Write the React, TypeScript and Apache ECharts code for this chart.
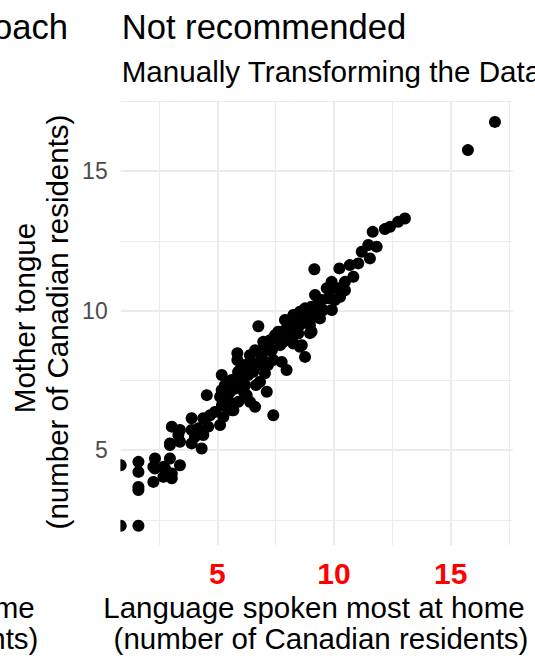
import React, { useEffect, useRef } from "react";
import * as echarts from "echarts";

// Log-scale values (manually transformed): language spoken most at home (x) vs mother tongue (y)
const X_VALUES = [
  16.9, 15.74, 13.04, 12.75, 12.4, 12.18, 11.66, 11.83, 11.47, 11.19,
  11.54, 11.04, 10.68, 10.23, 9.16, 10.83, 10.47, 9.9, 10.18, 9.69,
  10.26, 9.76, 9.47, 9.26, 9.04, 9.54, 8.76, 8.54, 8.26, 9.11,
  9.4, 7.9, 8.68, 6.76, 7.61, 8.11, 9.04, 8.47, 6.97, 7.83,
  8.62, 8.26, 7.69, 8.97, 8.54, 5.86, 5.86, 6.83, 7.4, 8.76,
  6.54, 7.76, 7.97, 6.54, 7.04, 5.19, 5.62, 6.05, 6.83, 7.12,
  4.55, 5.19, 5.76, 6.26, 5.12, 5.47, 5.9, 6.4, 5.4, 6.62,
  4.9, 5.69, 7.4, 5.26, 4.4, 3.9, 5.12, 4.61, 4.19, 3.9,
  3.05, 3.4, 3.33, 4.4, 4.04, 2.97, 3.4, 3.9, 4.33, 2.33,
  2.97, 3.4, 2.69, 2.33, 2.69, 0.86, 1.62, 1.62, 2.26, 2.76,
  3.05, 2.26, 3.05, 1.62, 1.62, 0.86, 1.62, 2.97,
  8.11, 8.33, 8.76, 8.97, 7.9, 7.47, 7.26, 7.04, 7.69, 7.26,
  6.62, 6.4, 6.19, 5.97, 6.32, 6.74, 7.17, 6.19, 5.33, 5.54,
  9.83, 10.04, 10.47, 9.19, 9.91, 8.54,
  5.46, 5.89, 6.4, 6.92, 7.34, 7.77, 8.2, 6.14, 6.66, 5.63,
  5.2, 4.69, 8.54, 9.31,
];
const Y_VALUES = [
  16.76, 15.75, 13.3, 13.18, 13.0, 12.92, 12.82, 12.29, 12.35, 12.11,
  11.87, 11.69, 11.63, 11.51, 11.48, 11.21, 11.03, 11.03, 10.8, 10.8,
  10.49, 10.44, 10.38, 10.2, 10.14, 10.02, 10.08, 9.96, 9.84, 9.78,
  9.72, 9.66, 9.66, 9.44, 9.24, 9.36, 9.24, 9.18, 8.88, 8.88,
  8.76, 8.82, 9.19, 9.19, 8.7, 8.47, 8.23, 8.47, 8.23, 8.34,
  8.11, 8.16, 7.87, 7.81, 7.75, 7.69, 7.51, 7.51, 7.45, 7.09,
  6.97, 7.15, 7.21, 6.97, 6.91, 6.79, 6.73, 6.73, 6.55, 6.55,
  6.37, 6.43, 6.25, 6.19, 6.14, 6.14, 5.9, 5.84, 5.78, 5.72,
  5.84, 5.72, 5.54, 5.54, 5.48, 5.24, 5.3, 5.24, 5.06, 4.7,
  4.7, 4.46, 4.4, 4.34, 4.04, 4.46, 4.58, 4.22, 4.4, 4.34,
  4.16, 3.86, 3.99, 3.68, 3.57, 2.29, 2.29, 5.18,
  9.66, 9.48, 9.84, 9.48, 9.3, 9.12, 8.94, 8.76, 8.76, 8.58,
  8.58, 8.4, 8.05, 7.87, 7.69, 8.05, 8.05, 7.33, 7.33, 7.08,
  10.73, 10.38, 10.73, 10.56, 10.02, 9.48,
  7.33, 7.8, 8.05, 8.3, 8.58, 8.94, 9.12, 7.08, 7.33, 6.43,
  6.61, 6.25, 9.59, 9.95,
];

const X_MAJOR = [5, 10, 15];
const X_MINOR = [2.5, 7.5, 12.5, 17.5];
const Y_MAJOR = [5, 10, 15];
const Y_MINOR = [2.5, 7.5, 12.5, 17.5];
const X_RANGE = [0.86, 17.66];
const Y_RANGE = [1.6, 17.52];

const TITLE = "Not recommended";
const SUBTITLE = "Manually Transforming the Data";
const X_TITLE_1 = "Language spoken most at home";
const X_TITLE_2 = "(number of Canadian residents)";
const Y_TITLE_1 = "Mother tongue";
const Y_TITLE_2 = "(number of Canadian residents)";
const NEIGHBOR_TITLE = "approach";

const FONT = '"Liberation Sans", Arial, Helvetica, sans-serif';

export default function App() {
  const ref = useRef<HTMLDivElement>(null);

  useEffect(() => {
    if (!ref.current) return;
    const chart = echarts.init(ref.current, undefined, { renderer: "svg" });
    const data = X_VALUES.map((x, i) => [x, Y_VALUES[i]]);
    const gridColor = "#EBEBEB";

    const txt = (text: string, x: number, y: number, size: number, align: string, extra: any = {}) => ({
      type: "text",
      x,
      y,
      silent: true,
      ...extra,
      style: {
        text,
        fill: "#000000",
        font: `${size}px ${FONT}`,
        fontSize: size,
        fontFamily: FONT,
        textAlign: align,
        textVerticalAlign: "middle",
        verticalAlign: "middle",
      },
    });

    chart.setOption({
      animation: false,
      backgroundColor: "#FFFFFF",
      grid: { left: 120.7, right: 22.3, top: 100.7, bottom: 113, containLabel: false },
      xAxis: [
        {
          type: "value",
          min: X_RANGE[0],
          max: X_RANGE[1],
          axisLine: { show: false },
          axisTick: { show: false, customValues: X_MAJOR },
          axisLabel: {
            customValues: X_MAJOR,
            color: "#FF0000",
            fontWeight: "bold",
            fontSize: 30,
            fontFamily: FONT,
            margin: 13,
          },
          splitLine: { show: true, lineStyle: { color: gridColor, width: 2 } },
        },
        {
          type: "value",
          min: X_RANGE[0],
          max: X_RANGE[1],
          position: "bottom",
          axisLine: { show: false },
          axisTick: { show: false, customValues: X_MINOR },
          axisLabel: { show: false },
          splitLine: { show: true, lineStyle: { color: gridColor, width: 1.2 } },
        },
      ],
      yAxis: [
        {
          type: "value",
          min: Y_RANGE[0],
          max: Y_RANGE[1],
          axisLine: { show: false },
          axisTick: { show: false, customValues: Y_MAJOR },
          axisLabel: {
            customValues: Y_MAJOR,
            color: "#4D4D4D",
            fontSize: 23,
            fontFamily: FONT,
            margin: 13,
          },
          splitLine: { show: true, lineStyle: { color: gridColor, width: 2 } },
        },
        {
          type: "value",
          min: Y_RANGE[0],
          max: Y_RANGE[1],
          position: "left",
          axisLine: { show: false },
          axisTick: { show: false, customValues: Y_MINOR },
          axisLabel: { show: false },
          splitLine: { show: true, lineStyle: { color: gridColor, width: 1.2 } },
        },
      ],
      series: [
        {
          type: "scatter",
          xAxisIndex: 0,
          yAxisIndex: 0,
          data,
          symbol: "circle",
          symbolSize: 12,
          clip: false,
          itemStyle: { color: "#000000", opacity: 1 },
          emphasis: { disabled: true },
        },
      ],
      graphic: {
        elements: [
          // clip mask for points lying on the panel's left edge
          {
            type: "rect",
            z: 100,
            silent: true,
            shape: { x: 108, y: 100, width: 12.4, height: 446 },
            style: { fill: "#FFFFFF" },
          },
          txt(TITLE, 121.7, 27, 34.6, "left", { z: 100 }),
          txt(SUBTITLE, 121.7, 71.5, 29.6, "left", { z: 100 }),
          txt(NEIGHBOR_TITLE, 68, 27, 34.6, "right", { z: 100 }),
          txt(X_TITLE_1, 314, 607.5, 29.5, "center", { z: 100 }),
          txt(X_TITLE_2, 321, 638, 29.5, "center", { z: 100 }),
          txt(X_TITLE_1, -176, 607.5, 29.5, "center", { z: 100 }),
          txt(X_TITLE_2, -169, 638, 29.5, "center", { z: 100 }),
          txt(Y_TITLE_1, 24, 318, 29.5, "center", { z: 100, rotation: Math.PI / 2 }),
          txt(Y_TITLE_2, 57, 322, 29.5, "center", { z: 100, rotation: Math.PI / 2 }),
        ],
      },
    });

    return () => chart.dispose();
  }, []);

  return (
    <div
      ref={ref}
      style={{ position: "fixed", left: 0, top: 0, width: 535, height: 658, background: "#FFFFFF" }}
    />
  );
}
